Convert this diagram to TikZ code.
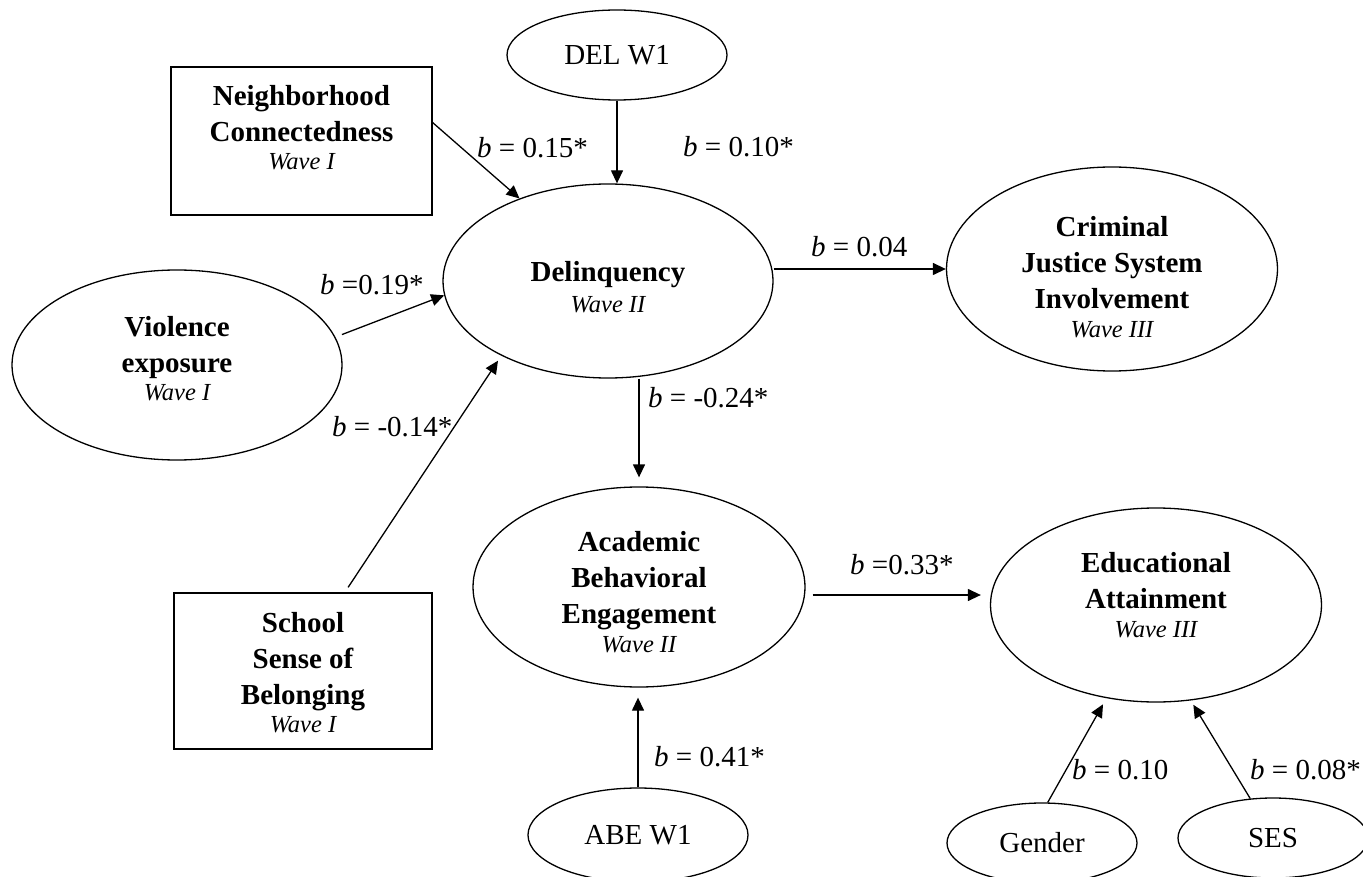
\documentclass[tikz,border=0pt]{standalone}
\usepackage{fontspec}
\setmainfont{Liberation Serif}
\usetikzlibrary{shapes.geometric,arrows.meta,calc}
\newcommand{\wv}[1]{{\fontsize{24.5}{28}\selectfont\mdseries\itshape #1}}
\begin{document}
\begin{tikzpicture}[x=1pt,y=-1pt,
  ell/.style={draw, line width=1.3pt, ellipse, inner sep=0pt},
  rbox/.style={draw, line width=1.3pt, rectangle, inner sep=0pt},
  title/.style={font=\fontsize{29}{36}\selectfont\bfseries, align=center, inner sep=0pt},
  plain/.style={font=\fontsize{29}{35}\selectfont},
  lab/.style={font=\fontsize{29}{35}\selectfont, anchor=west, inner sep=0pt},
  arr/.style={line width=1.3pt, -{Triangle[length=13pt,width=12pt]}}]
\useasboundingbox[fill=white] (0,0) rectangle (1363,877);

% shapes
\node[ell, plain, minimum width=220pt, minimum height=90pt] (delw) at (617,55) {DEL W1};
\node[rbox, minimum width=261pt, minimum height=148pt] (nbox) at (301.5,141) {};
\node[ell, minimum width=330pt, minimum height=194pt] (del) at (608,281) {};
\node[ell, minimum width=331pt, minimum height=204pt] (crim) at (1112,269) {};
\node[ell, minimum width=330pt, minimum height=190pt] (viol) at (177,365) {};
\node[ell, minimum width=332pt, minimum height=200pt] (acad) at (639,587) {};
\node[ell, minimum width=331pt, minimum height=194pt] (educ) at (1156,605) {};
\node[rbox, minimum width=258pt, minimum height=156pt] (school) at (303,671) {};
\node[ell, plain, minimum width=220pt, minimum height=94pt] (abe) at (638,835) {ABE W1};
\node[ell, plain, minimum width=190pt, minimum height=80pt] (gender) at (1042,843) {Gender};
\node[ell, plain, minimum width=190pt, minimum height=80pt] (ses) at (1273,838) {SES};

% texts
\node[title] (ntxt) at (301.5,128) {Neighborhood\\Connectedness\\[-8pt]\wv{Wave I}};
\node[title] (deltxt) at (608,287) {Delinquency\\[-5pt]\wv{Wave II}};
\node[title] (crimtxt) at (1112,277) {Criminal\\Justice System\\Involvement\\[-7pt]\wv{Wave III}};
\node[title] (violtxt) at (177,359) {Violence\\exposure\\[-8pt]\wv{Wave I}};
\node[title] (acadtxt) at (639,592) {Academic\\Behavioral\\Engagement\\[-7pt]\wv{Wave II}};
\node[title] (eductxt) at (1156,595) {Educational\\Attainment\\[-7pt]\wv{Wave III}};
\node[title] (schooltxt) at (303,673) {School\\Sense of\\Belonging\\[-8pt]\wv{Wave I}};

% connectors
\draw[arr] (nbox.8) -- (del.137);
\draw[arr] (delw.south) -- (delw.south |- del.north);
\draw[arr, shorten <=7pt] (viol.10) -- (del.185);
\draw[arr, shorten <=6pt, shorten >=6pt] (school.62) -- (del.215);
\draw[arr] (crim.west -| del.east) -- (crim.west);
\draw[arr, shorten >=9pt] (del.south -| acad.north) -- (acad.north);
\draw[arr, shorten <=7pt, shorten >=9pt] ([yshift=-8pt]acad.east) -- ([yshift=-8pt]acad.east -| educ.west);
\draw[arr, shorten >=10pt] (abe.north) -- (abe.north |- acad.south);
\draw[arr, shorten >=7pt] (gender.82) -- (educ.242);
\draw[arr, shorten >=5pt] (ses.120) -- (educ.290);

% labels
\node[lab] (l1) at (477,148) {\textit{b} = 0.15*};
\node[lab] (l2) at (683,147) {\textit{b} = 0.10*};
\node[lab] (l3) at (811,247) {\textit{b} = 0.04};
\node[lab] (l4) at (320,285) {\textit{b} =0.19*};
\node[lab] (l5) at (332,427) {\textit{b} = -0.14*};
\node[lab] (l6) at (648,398) {\textit{b} = -0.24*};
\node[lab] (l7) at (850,565) {\textit{b} =0.33*};
\node[lab] (l8) at (654,757) {\textit{b} = 0.41*};
\node[lab] (l9) at (1072,770) {\textit{b} = 0.10};
\node[lab] (l10) at (1250,770) {\textit{b} = 0.08*};
\end{tikzpicture}
\end{document}
